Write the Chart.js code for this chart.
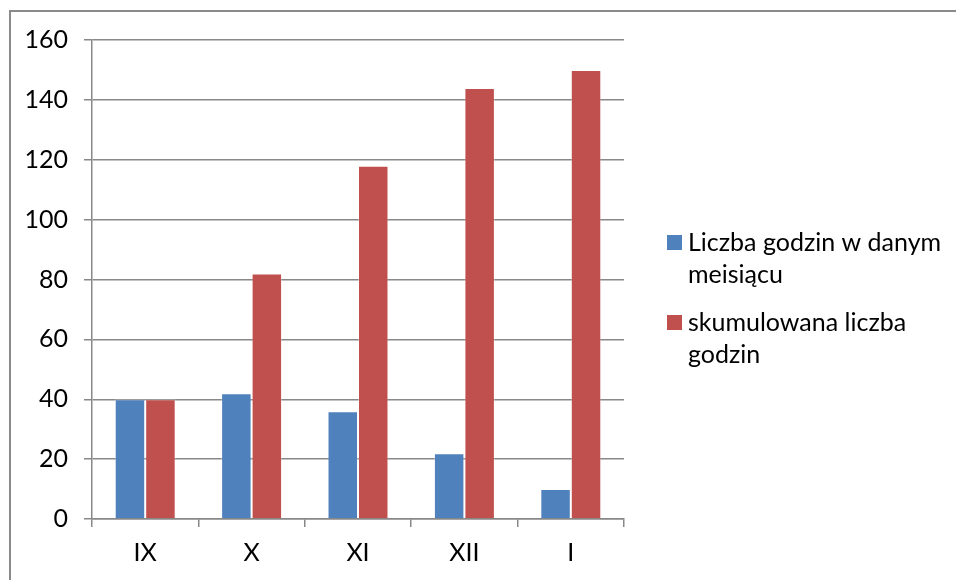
<!DOCTYPE html>
<html>
<head>
<meta charset="utf-8">
<script src="https://cdn.jsdelivr.net/npm/chart.js@4/dist/chart.umd.min.js"></script>
<style>
  html, body { margin: 0; padding: 0; background: #fff; }
  #wrap { position: relative; width: 956px; height: 580px; overflow: hidden; }
  #frame { position: absolute; left: 9px; top: 10px; width: 960px; height: 580px;
           border-left: 2px solid #8a8a8a; border-top: 2px solid #8a8a8a; box-sizing: border-box; }
  canvas { position: absolute; left: 0; top: 0; }
</style>
</head>
<body>
<div id="wrap">
  <div id="frame"></div>
  <canvas id="c" width="956" height="580"></canvas>
</div>
<script>
// Months (Roman numerals) and hours per series
const months = ['IX', 'X', 'XI', 'XII', 'I'];
const monthlyHours = [40, 42, 36, 22, 10];
const cumulativeHours = [40, 82, 118, 144, 150];
const seriesNames = ['Liczba godzin w danym meisiącu', 'skumulowana liczba godzin'];
const yTicks = [0, 20, 40, 60, 80, 100, 120, 140, 160];

const FONT = 'Lato, "DejaVu Sans", sans-serif';
const FONT_SIZE = 25;
const GRID = '#888888';

// Legend on the right with wrapped labels
const sideLegend = {
  id: 'sideLegend',
  afterDraw(chart) {
    const ctx = chart.ctx;
    const x0 = 667, box = 15, textX = 688, maxW = 262, lineH = 32, gap = 16;
    let y = 243;
    ctx.save();
    ctx.font = FONT_SIZE + 'px ' + FONT;
    ctx.textBaseline = 'middle';
    ctx.fillStyle = '#000';
    chart.data.datasets.forEach(ds => {
      const words = ds.label.split(' ');
      const lines = [];
      let cur = '';
      words.forEach(w => {
        const t = cur ? cur + ' ' + w : w;
        if (ctx.measureText(t).width > maxW && cur) { lines.push(cur); cur = w; }
        else cur = t;
      });
      if (cur) lines.push(cur);
      ctx.fillStyle = ds.backgroundColor;
      ctx.fillRect(x0, y - 8, box, box);
      ctx.fillStyle = '#000';
      lines.forEach((ln, i) => ctx.fillText(ln, textX, y + i * lineH));
      y += lines.length * lineH + gap;
    });
    ctx.restore();
  }
};

new Chart(document.getElementById('c'), {
  type: 'bar',
  data: {
    labels: months,
    datasets: [
      { label: seriesNames[0], data: monthlyHours, backgroundColor: '#4F81BD',
        borderColor: 'rgba(255,255,255,0.3)', borderWidth: 1 },
      { label: seriesNames[1], data: cumulativeHours, backgroundColor: '#C0504D',
        borderColor: 'rgba(255,255,255,0.3)', borderWidth: 1 }
    ]
  },
  options: {
    responsive: false,
    animation: false,
    devicePixelRatio: 1,
    layout: { padding: { top: 40, right: 332, left: 0, bottom: 0 } },
    datasets: { bar: { categoryPercentage: 0.573, barPercentage: 1 } },
    plugins: { legend: { display: false }, tooltip: { enabled: false } },
    scales: {
      x: {
        grid: { drawOnChartArea: false, drawTicks: true, tickLength: 8, color: GRID, lineWidth: 1.5, offset: true },
        border: { color: GRID, width: 1.5 },
        ticks: { color: '#000', font: { family: FONT, size: FONT_SIZE }, padding: 11, maxRotation: 0 },
        afterFit(s) { s.height = 61; }
      },
      y: {
        min: 0, max: 160,
        afterBuildTicks(s) { s.ticks = yTicks.map(v => ({ value: v })); },
        grid: { color: GRID, lineWidth: 1.5, tickLength: 8 },
        border: { color: GRID, width: 1.5 },
        ticks: { color: '#000', font: { family: FONT, size: FONT_SIZE }, padding: 16 },
        afterFit(s) { s.width = 92; }
      }
    }
  },
  plugins: [sideLegend]
});
</script>
</body>
</html>
